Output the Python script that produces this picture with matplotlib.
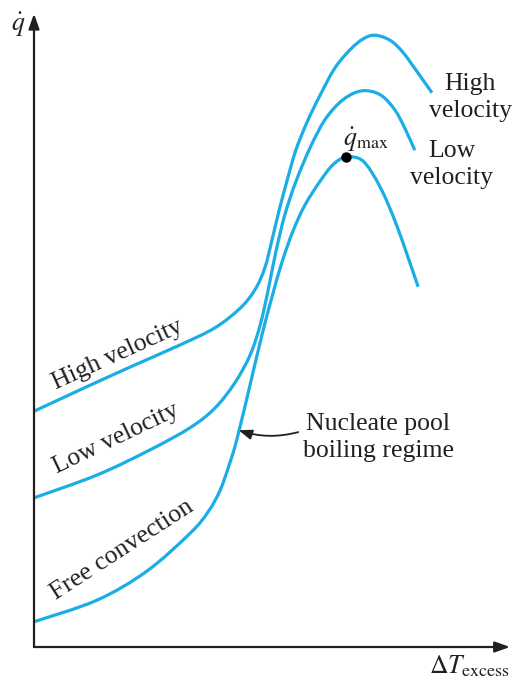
import matplotlib
matplotlib.use("Agg")
import matplotlib.pyplot as plt
from matplotlib.path import Path
from matplotlib.patches import PathPatch
import numpy as np

plt.rcParams['font.family'] = ['Liberation Serif', 'DejaVu Serif']
plt.rcParams['mathtext.fontset'] = 'stix'

# Boiling curves: excess temperature (arbitrary units) vs heat flux (arbitrary units)
high_dT = [0.0, 0.97, 2.02, 3.07, 3.80, 4.33, 4.64, 4.85, 5.00, 5.15, 5.32, 5.50,
           5.74, 6.01, 6.32, 6.64, 6.91, 7.16, 7.48, 7.75, 8.07, 8.36]
high_q = [3.73, 4.07, 4.43, 4.78, 5.05, 5.36, 5.65, 6.00, 6.44, 6.91, 7.39, 7.86,
          8.31, 8.73, 9.16, 9.45, 9.62, 9.68, 9.60, 9.41, 9.08, 8.77]

low_dT = [0.0, 1.32, 2.44, 3.28, 3.80, 4.22, 4.54, 4.75, 4.92, 5.08, 5.27, 5.50,
          5.80, 6.11, 6.43, 6.74, 7.02, 7.31, 7.58, 7.79, 8.00]
low_q = [2.36, 2.72, 3.12, 3.47, 3.78, 4.18, 4.62, 5.09, 5.65, 6.25, 6.84, 7.36,
         7.90, 8.34, 8.62, 8.77, 8.80, 8.72, 8.50, 8.21, 7.86]

free_dT = [0.0, 1.32, 2.37, 3.28, 3.66, 3.91, 4.10, 4.26, 4.54, 4.79, 5.00, 5.21,
           5.44, 5.69, 6.01, 6.28, 6.55, 6.91, 7.27, 7.63, 8.07]
free_q = [0.40, 0.74, 1.20, 1.80, 2.14, 2.48, 2.88, 3.28, 4.15, 4.94, 5.54, 6.09,
          6.58, 6.99, 7.37, 7.63, 7.75, 7.69, 7.28, 6.65, 5.70]

curve_color = '#1aade6'
axis_color = '#231f20'
text_color = '#231f20'
fs = 18.5


def smooth_path(xs, ys):
    """Cubic Bezier path passing through every point (Catmull-Rom tangents)."""
    p = np.column_stack([xs, ys]).astype(float)
    ext = np.vstack([p[0], p, p[-1]])
    verts = [p[0]]
    codes = [Path.MOVETO]
    for i in range(len(p) - 1):
        p0, p1, p2, p3 = ext[i], ext[i + 1], ext[i + 2], ext[i + 3]
        verts += [p1 + (p2 - p0) / 6.0, p2 - (p3 - p1) / 6.0, p2]
        codes += [Path.CURVE4] * 3
    return Path(verts, codes)


fig = plt.figure(figsize=(5.12, 6.82), dpi=100)
ax = fig.add_axes([34 / 512, 35 / 682, 476 / 512, 632 / 682])
ax.set_xlim(0, 10)
ax.set_ylim(0, 10)
ax.axis('off')

for xs, ys in [(high_dT, high_q), (low_dT, low_q), (free_dT, free_q)]:
    ax.add_patch(PathPatch(smooth_path(xs, ys), facecolor='none', edgecolor=curve_color,
                           lw=2.3, capstyle='butt', joinstyle='round', clip_on=False))

# Critical heat flux point on the free-convection curve
imax = int(np.argmax(free_q))
ax.plot(free_dT[imax], free_q[imax], 'o', color='black', ms=6.5, clip_on=False, zorder=5)
ax.text(free_dT[imax] + 0.42, free_q[imax] + 0.27, r'$\dot{q}_{\mathrm{max}}$',
        fontsize=fs, ha='center', va='center', color=text_color)

# Axes with arrowheads
arrow_kw = dict(arrowstyle='-|>,head_length=0.9,head_width=0.32', color=axis_color,
                lw=1.6, shrinkA=0, shrinkB=0)
ax.annotate('', xy=(0, 10.02), xytext=(0, 0), arrowprops=arrow_kw, annotation_clip=False)
ax.annotate('', xy=(10.0, 0), xytext=(0, 0), arrowprops=arrow_kw, annotation_clip=False)
ax.text(-0.34, 9.84, r'$\dot{q}$', fontsize=fs, ha='center', va='center',
        color=text_color, clip_on=False)
ax.text(9.16, -0.30, r'$\Delta T_{\mathrm{excess}}$', fontsize=fs, ha='center',
        va='center', color=text_color, clip_on=False)

# Curve labels
ax.text(1.76, 4.62, 'High velocity', fontsize=fs, rotation=24.5, ha='center',
        va='center', rotation_mode='anchor', color=text_color)
ax.text(1.72, 3.30, 'Low velocity', fontsize=fs, rotation=25.5, ha='center',
        va='center', rotation_mode='anchor', color=text_color)
ax.text(1.85, 1.53, 'Free convection', fontsize=fs, rotation=33, ha='center',
        va='center', rotation_mode='anchor', color=text_color)
ax.text(9.16, 8.70, 'High\nvelocity', fontsize=fs, ha='center', va='center',
        linespacing=1.3, color=text_color, clip_on=False)
ax.text(8.78, 7.63, 'Low\nvelocity', fontsize=fs, ha='center', va='center',
        linespacing=1.3, color=text_color)

# Nucleate boiling annotation
ax.text(7.23, 3.32, 'Nucleate pool\nboiling regime', fontsize=fs, ha='center',
        va='center', linespacing=1.3, color=text_color)
ax.annotate('', xy=(4.30, 3.43), xytext=(5.55, 3.40),
            arrowprops=dict(arrowstyle='-|>,head_length=0.8,head_width=0.3',
                            color=axis_color, lw=1.3, shrinkA=0, shrinkB=0,
                            connectionstyle='arc3,rad=-0.15'))

fig.savefig('out.png', dpi=100)
